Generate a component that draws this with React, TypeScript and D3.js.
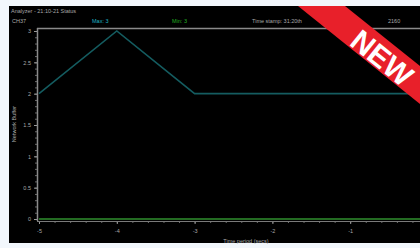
import { useRef, useEffect } from 'react';
import * as d3 from 'd3';

const timeValues = [-5, -4, -3, -2, -1, 0];
const bufferValues = [2, 3, 2, 2, 2, 2];
const minValues = [0, 0, 0, 0, 0, 0];
const xTicks = [-5, -4, -3, -2, -1];
const yTicks = [0, 0.5, 1, 1.5, 2, 2.5, 3];

const WIDTH = 420;
const HEIGHT = 248;
const PANEL = { left: 9, top: 6, right: 420, bottom: 243 };

export default function App() {
  const svgRef = useRef<SVGSVGElement>(null);

  useEffect(() => {
    if (!svgRef.current) return;
    const svg = d3.select(svgRef.current);
    svg.selectAll('*').remove();

    svg.append('rect').attr('width', WIDTH).attr('height', HEIGHT).attr('fill', '#f2f7fc');
    svg.append('rect')
      .attr('x', PANEL.left)
      .attr('y', PANEL.top)
      .attr('width', PANEL.right - PANEL.left)
      .attr('height', PANEL.bottom - PANEL.top)
      .attr('fill', '#000');

    const x = d3.scaleLinear().domain([-5, 0]).range([39, 428]);
    const y = d3.scaleLinear().domain([0, 3]).range([219, 31]);

    const font = 'Liberation Sans, Arial, sans-serif';
    const txt = (tx: number, ty: number, s: string, fill = '#a8a8a8', anchor = 'start') =>
      svg.append('text')
        .attr('x', tx).attr('y', ty)
        .attr('font-family', font).attr('font-size', '5.5px')
        .attr('fill', fill).attr('text-anchor', anchor)
        .text(s);

    // header
    txt(11, 13, 'Analyzer - 21:10-21 Status');
    txt(12, 23, 'CH37');
    txt(92, 23, 'Max: 3', '#1fb3c2');
    txt(172, 23, 'Min: 3', '#22b022');
    txt(252, 23, 'Time stamp: 31:20th');
    txt(388, 23, '2160');

    // frame lines
    svg.append('line').attr('x1', 37).attr('x2', 420).attr('y1', 28.5).attr('y2', 28.5)
      .attr('stroke', '#8a8a8a').attr('stroke-width', 1.5);

    const clip = svg.append('clipPath').attr('id', 'plot-clip');
    clip.append('rect').attr('x', 37).attr('y', 29).attr('width', 383).attr('height', 195);

    // y axis
    const yAxis = svg.append('g').attr('transform', 'translate(37,0)')
      .call(d3.axisLeft(y).tickValues(d3.range(0, 3.01, 0.1)).tickSize(2).tickFormat(() => ''));
    yAxis.select('.domain').remove();
    yAxis.selectAll('line').attr('stroke', '#6a6a6a');
    const yMajor = svg.append('g').attr('transform', 'translate(37,0)')
      .call(d3.axisLeft(y).tickValues(yTicks).tickSize(3).tickPadding(3).tickFormat((d) => String(d)));
    yMajor.select('.domain').remove();
    yMajor.selectAll('line').attr('stroke', '#9a9a9a');
    yMajor.selectAll('text').attr('fill', '#a8a8a8').attr('font-size', '5.5px').attr('font-family', font);
    svg.append('line').attr('x1', 37.5).attr('x2', 37.5).attr('y1', 28).attr('y2', 221)
      .attr('stroke', '#8a8a8a').attr('stroke-width', 1.5);

    // x axis
    const xMinor = svg.append('g').attr('transform', 'translate(0,221)')
      .call(d3.axisBottom(x).tickValues(d3.range(-5, 0, 0.2)).tickSize(2).tickFormat(() => ''));
    xMinor.select('.domain').remove();
    xMinor.selectAll('line').attr('stroke', '#6a6a6a');
    const xAxis = svg.append('g').attr('transform', 'translate(0,221)')
      .call(d3.axisBottom(x).tickValues(xTicks).tickSize(3).tickPadding(5).tickFormat((d) => String(d)));
    xAxis.select('.domain').remove();
    xAxis.selectAll('line').attr('stroke', '#9a9a9a');
    xAxis.selectAll('text').attr('fill', '#a8a8a8').attr('font-size', '5.5px').attr('font-family', font);
    svg.append('line').attr('x1', 37).attr('x2', 420).attr('y1', 221.5).attr('y2', 221.5)
      .attr('stroke', '#7a7a7a').attr('stroke-width', 1);

    // axis titles
    txt(246, 243, 'Time period (secs)', '#a8a8a8', 'middle');
    svg.append('text')
      .attr('transform', 'translate(16,124) rotate(-90)')
      .attr('font-family', font).attr('font-size', '5.5px')
      .attr('fill', '#a8a8a8').attr('text-anchor', 'middle')
      .text('Network Buffer');

    const pts = timeValues.map((t, i) => ({ t, v: bufferValues[i], m: minValues[i] }));
    const plot = svg.append('g').attr('clip-path', 'url(#plot-clip)');

    plot.append('path').datum(pts)
      .attr('fill', 'none').attr('stroke', '#236b22').attr('stroke-width', 2)
      .attr('d', d3.line<{ t: number; m: number }>().x((d) => x(d.t)).y((d) => y(d.m)));

    plot.append('path').datum(pts)
      .attr('fill', 'none').attr('stroke', '#145c60').attr('stroke-width', 1.6)
      .attr('d', d3.line<{ t: number; v: number }>().x((d) => x(d.t)).y((d) => y(d.v)));

    // NEW ribbon
    const ribbonClip = svg.append('clipPath').attr('id', 'ribbon-clip');
    ribbonClip.append('rect').attr('x', PANEL.left).attr('y', PANEL.top)
      .attr('width', PANEL.right - PANEL.left).attr('height', PANEL.bottom - PANEL.top);
    const rib = svg.append('g').attr('clip-path', 'url(#ribbon-clip)');
    rib.append('polygon')
      .attr('points', '298,6 345,6 440,82 440,120')
      .attr('fill', '#e8202a');
    rib.append('text')
      .attr('transform', 'translate(382,58) rotate(39)')
      .attr('font-family', 'Liberation Sans, Arial, sans-serif')
      .attr('font-size', '30px')
      .attr('font-weight', 'bold')
      .attr('fill', '#ffffff')
      .attr('text-anchor', 'middle')
      .attr('dominant-baseline', 'central')
      .text('NEW');
  }, []);

  return (
    <svg
      ref={svgRef}
      width={WIDTH}
      height={HEIGHT}
      style={{ position: 'absolute', left: 0, top: 0, display: 'block' }}
    />
  );
}
